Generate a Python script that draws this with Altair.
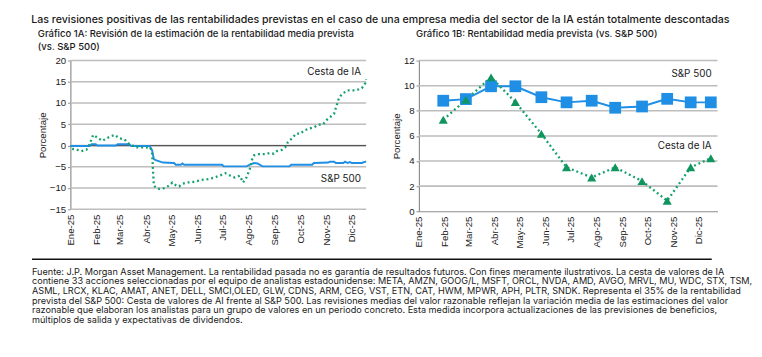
import json
import pandas as pd
import altair as alt

# ---------------- data ----------------
MAIN_TITLE = "Las revisiones positivas de las rentabilidades previstas en el caso de una empresa media del sector de la IA están totalmente descontadas"
TITLE_A = ["Gráfico 1A: Revisión de la estimación de la rentabilidad media prevista", "(vs. S&P 500)"]
TITLE_B = ["Gráfico 1B: Rentabilidad media prevista (vs. S&P 500)", " "]
Y_TITLE = "Porcentaje"
MONTH_LABELS = ["Ene-25", "Feb-25", "Mar-25", "Abr-25", "May-25", "Jun-25",
                "Jul-25", "Ago-25", "Sep-25", "Oct-25", "Nov-25", "Dic-25"]
Y_TICKS_A = [-15, -10, -5, 0, 5, 10, 15, 20]
Y_TICKS_B = [0, 2, 4, 6, 8, 10, 12]
SERIES_AI = "Cesta de IA"
SERIES_SPX = "S&P 500"

# Chart 1A: AI basket revision (dotted green)
AI_A_DATES = [
    "2025-01-03", "2025-01-09", "2025-01-14", "2025-01-20", "2025-01-24", "2025-01-28",
    "2025-02-02", "2025-02-08", "2025-02-13", "2025-02-19", "2025-02-23", "2025-02-28",
    "2025-03-06", "2025-03-11", "2025-03-16", "2025-03-19", "2025-03-29", "2025-04-06",
    "2025-04-08", "2025-04-09", "2025-04-10", "2025-04-13", "2025-04-17", "2025-04-23", "2025-04-28",
    "2025-05-02", "2025-05-06", "2025-05-10", "2025-05-14", "2025-05-19", "2025-05-29",
    "2025-06-05", "2025-06-13", "2025-06-21", "2025-06-28",
    "2025-07-04", "2025-07-10", "2025-07-15", "2025-07-21", "2025-07-25", "2025-07-29",
    "2025-08-02", "2025-08-05", "2025-08-07", "2025-08-13", "2025-08-21", "2025-08-26", "2025-08-30",
    "2025-09-03", "2025-09-09", "2025-09-13", "2025-09-16", "2025-09-22", "2025-09-26",
    "2025-10-01", "2025-10-05", "2025-10-11", "2025-10-17", "2025-10-22", "2025-10-28",
    "2025-11-01", "2025-11-06", "2025-11-10", "2025-11-12", "2025-11-16", "2025-11-20",
    "2025-11-26", "2025-12-03", "2025-12-09", "2025-12-13", "2025-12-17", "2025-12-18",
]
AI_A_VALUES = [
    -0.75, -1.0, -1.3, -1.0, 0.4, 2.5,
    1.9, 1.1, 1.7, 2.3, 2.5, 1.7,
    1.5, 0.5, 0.0, -0.4, -0.4, -0.5,
    -1.9, -5.6, -9.4, -10.0, -10.2, -10.0, -9.4,
    -8.7, -9.3, -9.6, -9.0, -8.7, -8.5,
    -8.1, -7.9, -7.5, -7.0,
    -6.5, -7.1, -7.5, -7.1, -8.7, -7.5,
    -5.5, -3.0, -2.3, -2.0, -2.0, -1.7, -1.9,
    -1.3, -1.0, -0.4, 0.75, 1.9, 2.8,
    2.8, 3.5, 4.0, 4.3, 4.9, 5.0,
    6.0, 6.8, 7.5, 8.8, 11.3, 12.2,
    13.0, 13.0, 13.2, 13.5, 14.7, 15.6,
]

# Chart 1A: S&P 500 revision (solid blue, step-like)
SPX_A_DATES = [
    "2025-01-01", "2025-01-24", "2025-01-26", "2025-01-31", "2025-02-02", "2025-02-24",
    "2025-02-26", "2025-03-12", "2025-03-14", "2025-04-05", "2025-04-08", "2025-04-10",
    "2025-04-13", "2025-04-21", "2025-05-04", "2025-05-06", "2025-05-12", "2025-05-14",
    "2025-05-16", "2025-06-30", "2025-07-02", "2025-07-29", "2025-08-02", "2025-08-07",
    "2025-08-11", "2025-08-17", "2025-09-18", "2025-09-20", "2025-10-15", "2025-10-17",
    "2025-11-03", "2025-11-05", "2025-11-10", "2025-11-12", "2025-11-21", "2025-11-23",
    "2025-11-26", "2025-11-29", "2025-12-01", "2025-12-13", "2025-12-17", "2025-12-18",
]
SPX_A_VALUES = [
    -0.1, -0.1, 0.3, 0.3, 0.0, 0.0,
    0.3, 0.3, -0.1, -0.1, -1.1, -3.2,
    -3.5, -4.0, -4.1, -4.5, -4.5, -4.2,
    -4.5, -4.5, -4.9, -4.9, -4.5, -4.1,
    -4.2, -4.9, -4.9, -4.5, -4.5, -4.1,
    -4.0, -3.8, -3.8, -4.1, -4.1, -3.8,
    -4.1, -3.9, -4.1, -4.1, -3.8, -3.8,
]

# Chart 1B: monthly expected returns
B_DATES = ["2025-01-30", "2025-02-26", "2025-03-28", "2025-04-26", "2025-05-27", "2025-06-26",
           "2025-07-26", "2025-08-23", "2025-09-24", "2025-10-24", "2025-11-21", "2025-12-15"]
SPX_B_VALUES = [8.8, 8.93, 9.95, 9.95, 9.08, 8.67, 8.8, 8.24, 8.34, 8.95, 8.67, 8.67]
AI_B_VALUES = [7.29, 8.87, 10.66, 8.7, 6.16, 3.5, 2.69, 3.5, 2.4, 0.84, 3.5, 4.22]

FOOTER_LINES = [
    "Fuente: J.P. Morgan Asset Management. La rentabilidad pasada no es garantía de resultados futuros. Con fines meramente ilustrativos. La cesta de valores de IA",
    "contiene 33 acciones seleccionadas por el equipo de analistas estadounidense: META, AMZN, GOOG/L, MSFT, ORCL, NVDA, AMD, AVGO, MRVL, MU, WDC, STX, TSM,",
    "ASML, LRCX, KLAC, AMAT, ANET, DELL, SMCI,OLED, GLW, CDNS, ARM, CEG, VST, ETN, CAT, HWM, MPWR, APH, PLTR, SNDK. Representa el 35% de la rentabilidad",
    "prevista del S&P 500: Cesta de valores de AI frente al S&P 500. Las revisiones medias del valor razonable reflejan la variación media de las estimaciones del valor",
    "razonable que elaboran los analistas para un grupo de valores en un periodo concreto. Esta medida incorpora actualizaciones de las previsiones de beneficios,",
    "múltiplos de salida y expectativas de dividendos.",
]

# ---------------- styles ----------------
GREEN = "#14a06b"
BLUE = "#1f8fe6"
TXT = "#1a1a1a"
GRID = "#bdbdbd"
AXIS = "#8c8c8c"
FONT = "Inter"
TICKFONT = "Liberation Sans"

LABEL_EXPR = json.dumps(MONTH_LABELS) + "[month(datum.value)]"

ai_a = pd.DataFrame({"date": pd.to_datetime(AI_A_DATES), "value": AI_A_VALUES})
spx_a = pd.DataFrame({"date": pd.to_datetime(SPX_A_DATES), "value": SPX_A_VALUES})
b_df = pd.DataFrame({"date": pd.to_datetime(B_DATES), "spx": SPX_B_VALUES, "ai": AI_B_VALUES})
grid_a = pd.DataFrame({"value": Y_TICKS_A})
grid_b = pd.DataFrame({"value": Y_TICKS_B[1:]})
zero_df = pd.DataFrame({"value": [0.0]})

# annotation anchors (label text placed in data space)
ann_a = pd.DataFrame({"date": pd.to_datetime(["2025-12-12", "2025-12-12"]),
                      "value": [17.3, -8.0], "label": [SERIES_AI, SERIES_SPX]})
ann_b = pd.DataFrame({"date": pd.to_datetime(["2025-12-16", "2025-12-16"]),
                      "value": [10.95, 5.2], "label": [SERIES_SPX, SERIES_AI]})


def x_axis(show_domain):
    return alt.Axis(title=None, grid=False, ticks=False, domain=show_domain,
                    domainColor=AXIS, domainWidth=1.2,
                    labelAngle=-90, labelFont=TICKFONT, labelFontSize=10,
                    labelColor=TXT, labelPadding=5, labelOverlap=False,
                    labelFlush=False, labelBound=False,
                    tickCount={"interval": "month", "step": 1},
                    labelExpr=LABEL_EXPR)


def y_axis(values):
    return alt.Axis(title=Y_TITLE, values=values, grid=False, domain=True,
                    domainColor=AXIS, domainWidth=1.2, ticks=True, tickSize=3,
                    tickColor=AXIS, labelOverlap=False,
                    labelFont=TICKFONT, labelFontSize=10, labelColor=TXT,
                    labelPadding=2, titleFont=TICKFONT, titleFontSize=10,
                    titleFontWeight="normal", titleColor=TXT, titlePadding=2)


# ---------------- chart 1A ----------------
xA = alt.X("date:T", axis=x_axis(False),
           scale=alt.Scale(domain=[alt.DateTime(year=2025, month=1, date=1),
                                   alt.DateTime(year=2025, month=12, date=18)]))
yA = alt.Y("value:Q", axis=y_axis(Y_TICKS_A),
           scale=alt.Scale(domain=[-15, 20], nice=False))

grid_lines_a = alt.Chart(grid_a).mark_rule(color=GRID, strokeWidth=1.6).encode(y=yA)
zero_a = alt.Chart(zero_df).mark_rule(color="#555555", strokeWidth=1.3).encode(y=yA)
spx_line_a = alt.Chart(spx_a).mark_line(color=BLUE, strokeWidth=2).encode(x=xA, y=yA)
ai_line_a = alt.Chart(ai_a).mark_line(color=GREEN, strokeWidth=2.4, strokeDash=[2, 3]).encode(x=xA, y=yA)
labels_a = alt.Chart(ann_a).mark_text(align="right", baseline="middle", font=FONT,
                                      fontSize=10.3, color=TXT).encode(x=xA, y=yA, text="label:N")

chart_a = alt.layer(grid_lines_a, zero_a, spx_line_a, ai_line_a, labels_a).properties(
    width=308, height=155,
    title=alt.TitleParams(TITLE_A, anchor="start", frame="bounds", font=FONT,
                          fontSize=9.9, fontWeight=500, color=TXT, lineHeight=14,
                          offset=4))

# ---------------- chart 1B ----------------
xB = alt.X("date:T", axis=x_axis(True),
           scale=alt.Scale(domain=[alt.DateTime(year=2025, month=1, date=1),
                                   alt.DateTime(year=2025, month=12, date=23)]))
yB_scale = alt.Scale(domain=[0, 12], nice=False)
yB_axis = y_axis(Y_TICKS_B)
yB_spx = alt.Y("spx:Q", axis=yB_axis, scale=yB_scale)
yB_ai = alt.Y("ai:Q", axis=yB_axis, scale=yB_scale)
yB_val = alt.Y("value:Q", axis=yB_axis, scale=yB_scale)

grid_lines_b = alt.Chart(grid_b).mark_rule(color=GRID, strokeWidth=1.6).encode(y=yB_val)
spx_b_line = alt.Chart(b_df).mark_line(color=BLUE, strokeWidth=2).encode(x=xB, y=yB_spx)
spx_b_pts = alt.Chart(b_df).mark_point(shape="square", filled=True, opacity=1,
                                       color=BLUE, size=150).encode(x=xB, y=yB_spx)
ai_b_line = alt.Chart(b_df).mark_line(color=GREEN, strokeWidth=2.4, strokeDash=[2, 3]).encode(x=xB, y=yB_ai)
ai_b_pts = alt.Chart(b_df).mark_point(shape="triangle-up", filled=True, opacity=1,
                                      color="#10955f", size=90).encode(x=xB, y=yB_ai)
labels_b = alt.Chart(ann_b).mark_text(align="right", baseline="middle", font=FONT,
                                      fontSize=10.3, color=TXT).encode(x=xB, y=yB_val, text="label:N")

chart_b = alt.layer(grid_lines_b, spx_b_line, ai_b_line, spx_b_pts, ai_b_pts, labels_b).properties(
    width=311, height=157,
    title=alt.TitleParams(TITLE_B, anchor="start", frame="group", font=FONT,
                          fontSize=9.9, fontWeight=500, color=TXT, lineHeight=14,
                          offset=4, dx=-3))

# ---------------- footer ----------------
footer_df = pd.DataFrame({"t": ["\n".join(FOOTER_LINES)]})
footer_text = alt.Chart(footer_df).mark_text(
    align="left", baseline="top", lineBreak="\n", font=FONT, fontSize=9.5,
    lineHeight=10.1, color=TXT).encode(x=alt.value(-40), y=alt.value(8), text="t:N")
footer_rule = alt.Chart(footer_df).mark_rule(color="#111111", strokeWidth=1.5).encode(
    x=alt.value(-40), x2=alt.value(668), y=alt.value(0))
footer = alt.layer(footer_rule, footer_text).properties(width=668, height=60)

top = alt.hconcat(chart_a, chart_b, spacing=21)
chart = alt.vconcat(top, footer, spacing=10).properties(
    title=alt.TitleParams(MAIN_TITLE, anchor="start", frame="bounds", font=FONT,
                          fontSize=11.05, fontWeight=500, color=TXT, offset=4),
    padding={"left": 24, "top": 0, "right": 0, "bottom": 0},
).configure_view(stroke=None)

chart.save("out.html", embed_options={"renderer": "svg", "actions": False})
